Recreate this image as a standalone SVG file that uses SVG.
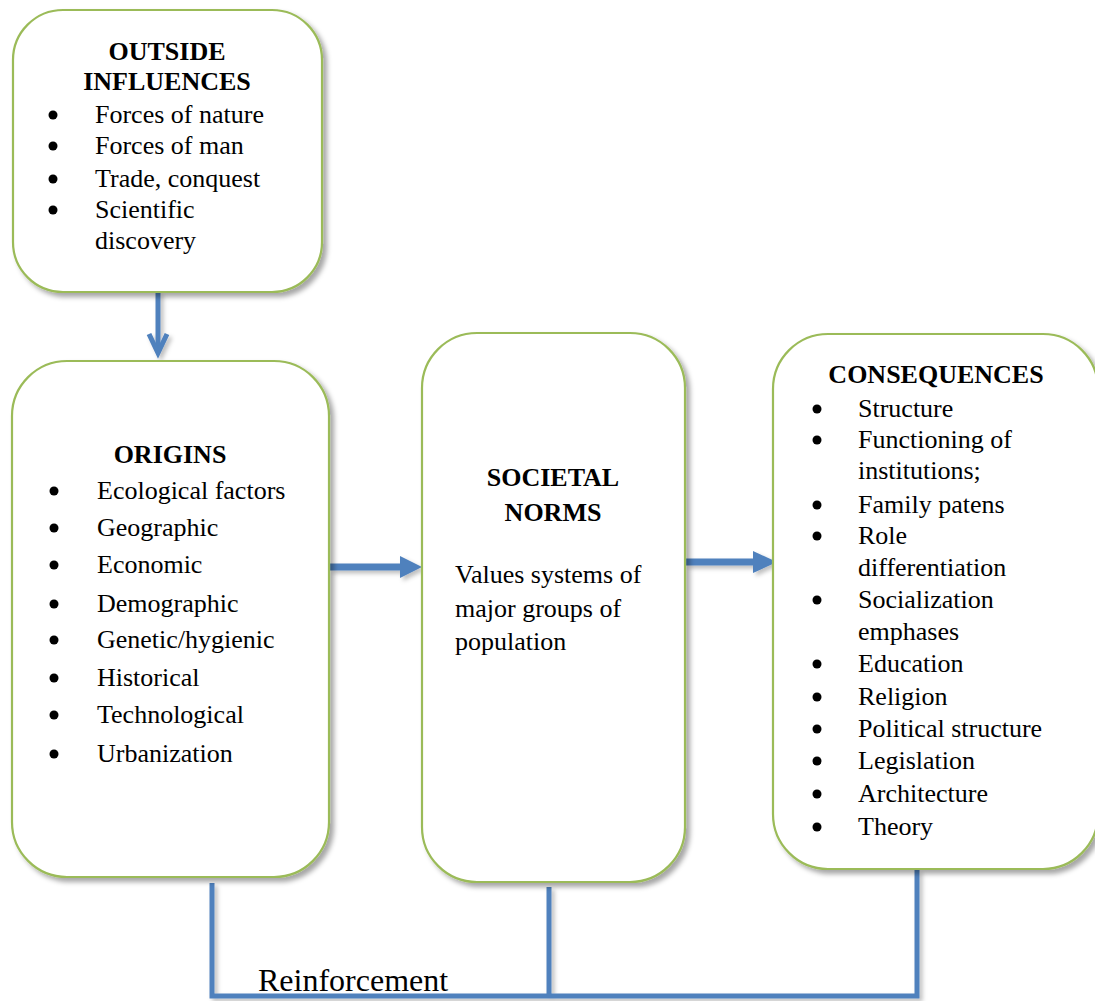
<svg xmlns="http://www.w3.org/2000/svg" width="1095" height="1001" viewBox="0 0 1095 1001">
  <defs>
    <filter id="shadow" x="-10%" y="-10%" width="125%" height="125%">
      <feDropShadow dx="4" dy="4" stdDeviation="2.5" flood-color="#000" flood-opacity="0.35"/>
    </filter>
    <filter id="lineShadow" filterUnits="userSpaceOnUse" x="0" y="0" width="1095" height="1001">
      <feDropShadow dx="3" dy="3" stdDeviation="2" flood-color="#000" flood-opacity="0.25"/>
    </filter>
  </defs>
  <style>
    .box { fill: #ffffff; stroke: #9bbb59; stroke-width: 2.2; filter: url(#shadow); }
    .title { font-family: "Liberation Serif", "Times New Roman", serif; font-size: 26px; font-weight: bold; fill: #000; text-anchor: middle; }
    .item { font-family: "Liberation Serif", "Times New Roman", serif; font-size: 26px; fill: #000; }
    .bul { fill: #000; }
    .conn { fill: none; stroke: #4f81bd; stroke-width: 5; }
    .label { font-family: "Liberation Serif", "Times New Roman", serif; font-size: 32px; fill: #000; }
  </style>

  <rect width="1095" height="1001" fill="#ffffff"/>

  <!-- connectors -->
  <g id="connectors" filter="url(#lineShadow)">
    <!-- outside influences -> origins -->
    <path class="conn" d="M158 292 V352"/>
    <path class="conn" d="M149 334 L158 353 L167 334"/>
    <!-- origins -> societal norms -->
    <rect x="330" y="563.5" width="72" height="7" fill="#4f81bd"/>
    <polygon points="400,556 422,567 400,578" fill="#4f81bd"/>
    <!-- societal norms -> consequences -->
    <rect x="686" y="558.5" width="69" height="7" fill="#4f81bd"/>
    <polygon points="753,551 777,562 753,573" fill="#4f81bd"/>
    <!-- reinforcement loop -->
    <path class="conn" d="M212 883 V996 H917 V870"/>
    <path class="conn" d="M549 887 V996"/>
  </g>
  <text class="label" x="258" y="991">Reinforcement</text>

  <!-- outside influences -->
  <g id="outside-influences">
    <rect class="box" x="13" y="10" width="309" height="282" rx="50" ry="50"/>
    <text class="title" x="167" y="60">OUTSIDE</text>
    <text class="title" x="167" y="90">INFLUENCES</text>
    <circle class="bul" cx="53" cy="115" r="4.5"/>
    <text class="item" x="95" y="123">Forces of nature</text>
    <circle class="bul" cx="53" cy="146" r="4.5"/>
    <text class="item" x="95" y="154">Forces of man</text>
    <circle class="bul" cx="53" cy="179" r="4.5"/>
    <text class="item" x="95" y="187">Trade, conquest</text>
    <circle class="bul" cx="53" cy="210" r="4.5"/>
    <text class="item" x="95" y="218">Scientific</text>
    <text class="item" x="95" y="249">discovery</text>
  </g>

  <!-- origins -->
  <g id="origins">
    <rect class="box" x="12" y="361" width="317" height="516" rx="55" ry="55"/>
    <text class="title" x="170" y="463">ORIGINS</text>
    <circle class="bul" cx="54" cy="491" r="4.5"/>
    <text class="item" x="97" y="499">Ecological factors</text>
    <circle class="bul" cx="54" cy="528" r="4.5"/>
    <text class="item" x="97" y="536">Geographic</text>
    <circle class="bul" cx="54" cy="565" r="4.5"/>
    <text class="item" x="97" y="573">Economic</text>
    <circle class="bul" cx="54" cy="604" r="4.5"/>
    <text class="item" x="97" y="612">Demographic</text>
    <circle class="bul" cx="54" cy="640" r="4.5"/>
    <text class="item" x="97" y="648">Genetic/hygienic</text>
    <circle class="bul" cx="54" cy="678" r="4.5"/>
    <text class="item" x="97" y="686">Historical</text>
    <circle class="bul" cx="54" cy="715" r="4.5"/>
    <text class="item" x="97" y="723">Technological</text>
    <circle class="bul" cx="54" cy="754" r="4.5"/>
    <text class="item" x="97" y="762">Urbanization</text>
  </g>

  <!-- societal norms -->
  <g id="societal-norms">
    <rect class="box" x="422" y="333" width="263" height="549" rx="55" ry="55"/>
    <text class="title" x="553" y="486">SOCIETAL</text>
    <text class="title" x="553" y="521">NORMS</text>
    <text class="item" x="455" y="583">Values systems of</text>
    <text class="item" x="455" y="617">major groups of</text>
    <text class="item" x="455" y="650">population</text>
  </g>

  <!-- consequences -->
  <g id="consequences">
    <rect class="box" x="773" y="334" width="325" height="535" rx="55" ry="55"/>
    <text class="title" x="936" y="383">CONSEQUENCES</text>
    <circle class="bul" cx="817" cy="409" r="4.5"/>
    <text class="item" x="858" y="417">Structure</text>
    <circle class="bul" cx="817" cy="440" r="4.5"/>
    <text class="item" x="858" y="448">Functioning of</text>
    <text class="item" x="858" y="479">institutions;</text>
    <circle class="bul" cx="817" cy="505" r="4.5"/>
    <text class="item" x="858" y="513">Family patens</text>
    <circle class="bul" cx="817" cy="536" r="4.5"/>
    <text class="item" x="858" y="544">Role</text>
    <text class="item" x="858" y="576">differentiation</text>
    <circle class="bul" cx="817" cy="600" r="4.5"/>
    <text class="item" x="858" y="608">Socialization</text>
    <text class="item" x="858" y="640">emphases</text>
    <circle class="bul" cx="817" cy="664" r="4.5"/>
    <text class="item" x="858" y="672">Education</text>
    <circle class="bul" cx="817" cy="697" r="4.5"/>
    <text class="item" x="858" y="705">Religion</text>
    <circle class="bul" cx="817" cy="729" r="4.5"/>
    <text class="item" x="858" y="737">Political structure</text>
    <circle class="bul" cx="817" cy="761" r="4.5"/>
    <text class="item" x="858" y="769">Legislation</text>
    <circle class="bul" cx="817" cy="794" r="4.5"/>
    <text class="item" x="858" y="802">Architecture</text>
    <circle class="bul" cx="817" cy="827" r="4.5"/>
    <text class="item" x="858" y="835">Theory</text>
  </g>
</svg>
